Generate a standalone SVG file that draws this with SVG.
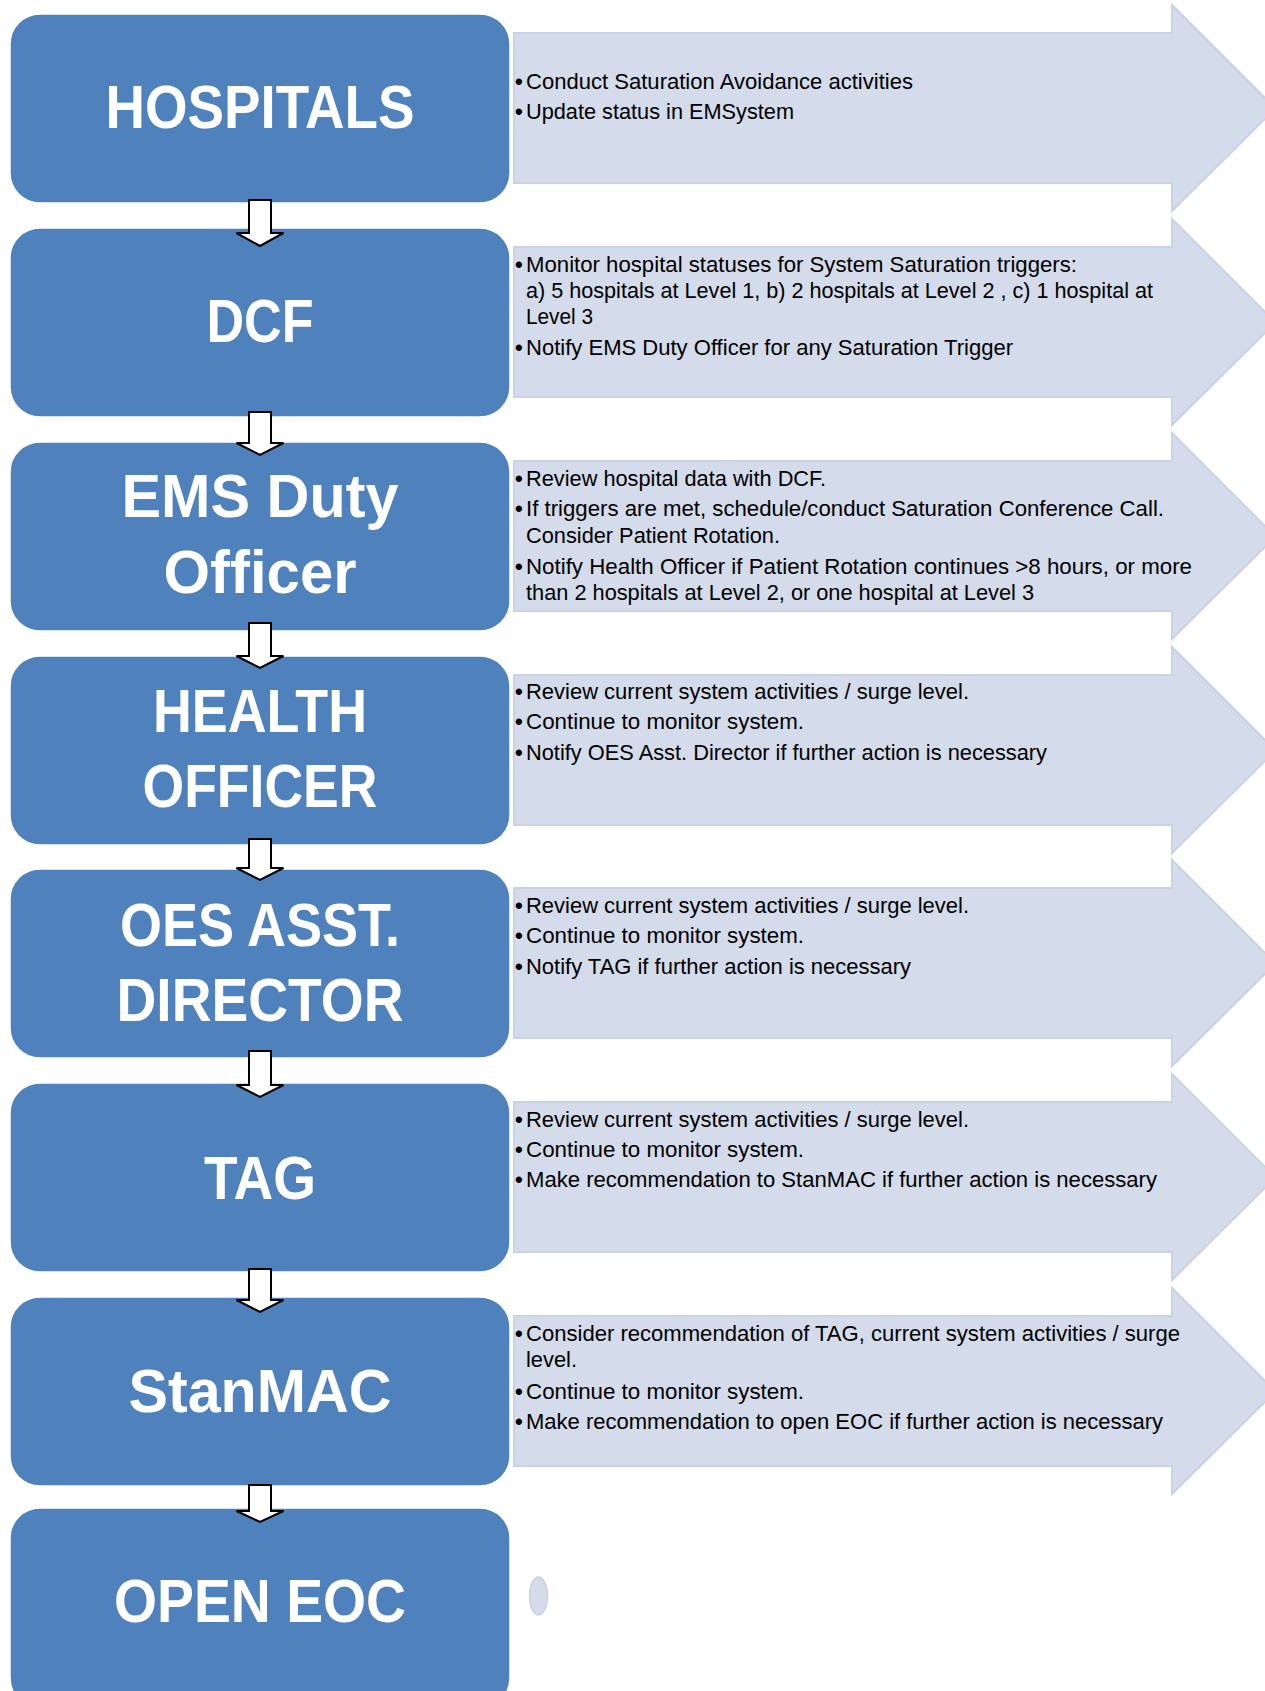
<svg xmlns="http://www.w3.org/2000/svg" width="1265" height="1691" viewBox="0 0 1265 1691">
<style>
.node{fill:#4F81BD;stroke:#ffffff;stroke-width:1.5}
.band{fill:#D4DBEA;stroke:#CAD2E5;stroke-width:2}
.title{font-family:"Liberation Sans",Arial,sans-serif;font-weight:bold;font-size:62px;fill:#ffffff;text-anchor:middle}
.txt{font-family:"Liberation Sans",Arial,sans-serif;font-size:22px;fill:#000000}
.b{font-weight:bold}
.down{fill:#ffffff;stroke:#000000;stroke-width:2;stroke-linejoin:miter}
</style>
<rect width="1265" height="1691" fill="#ffffff"/>

<g id="bands">
<path class="band" d="M514,33 H1172 V5 L1275.5,108.5 L1172,211 V183 H514 Z"/>
<path class="band" d="M514,247 H1172 V219 L1275.5,322.5 L1172,425 V397 H514 Z"/>
<path class="band" d="M514,461 H1172 V433 L1275.5,536.5 L1172,639 V611 H514 Z"/>
<path class="band" d="M514,675 H1172 V647 L1275.5,750.5 L1172,853 V825 H514 Z"/>
<path class="band" d="M514,888 H1172 V860 L1275.5,963.5 L1172,1066 V1038 H514 Z"/>
<path class="band" d="M514,1102 H1172 V1074 L1275.5,1177.5 L1172,1280 V1252 H514 Z"/>
<path class="band" d="M514,1316 H1172 V1288 L1275.5,1391.5 L1172,1494 V1466 H514 Z"/>
<ellipse cx="538.5" cy="1596" rx="9" ry="19" fill="#D4DBEA" stroke="#CAD2E5" stroke-width="1.5"/>
</g>

<g id="node-hospitals">
<rect class="node" x="10" y="14" width="500" height="189" rx="30"/>
<text class="title" x="260" y="128" textLength="309" lengthAdjust="spacingAndGlyphs">HOSPITALS</text>
</g>
<g id="text-hospitals" class="txt">
<text class="b" x="515" y="88.5">•</text><text x="526" y="88.5" textLength="387" lengthAdjust="spacingAndGlyphs">Conduct Saturation Avoidance activities</text>
<text class="b" x="515" y="118.5">•</text><text x="526" y="118.5" textLength="268" lengthAdjust="spacingAndGlyphs">Update status in EMSystem</text>
</g>

<g id="node-dcf">
<rect class="node" x="10" y="228" width="500" height="189" rx="30"/>
<text class="title" x="260" y="342" textLength="107" lengthAdjust="spacingAndGlyphs">DCF</text>
</g>
<g id="text-dcf" class="txt">
<text class="b" x="515" y="271.5">•</text><text x="526" y="271.5" textLength="551" lengthAdjust="spacingAndGlyphs">Monitor hospital statuses for System Saturation triggers:</text>
<text x="526" y="297.5" textLength="627" lengthAdjust="spacingAndGlyphs">a) 5 hospitals at Level 1, b) 2 hospitals at Level 2 , c) 1 hospital at</text>
<text x="526" y="323.5" textLength="67" lengthAdjust="spacingAndGlyphs">Level 3</text>
<text class="b" x="515" y="354.5">•</text><text x="526" y="354.5" textLength="487" lengthAdjust="spacingAndGlyphs">Notify EMS Duty Officer for any Saturation Trigger</text>
</g>

<g id="node-ems">
<rect class="node" x="10" y="442" width="500" height="189" rx="30"/>
<text class="title" x="260" y="517" textLength="277" lengthAdjust="spacingAndGlyphs">EMS Duty</text>
<text class="title" x="260" y="593" textLength="193" lengthAdjust="spacingAndGlyphs">Officer</text>
</g>
<g id="text-ems" class="txt">
<text class="b" x="515" y="485.5">•</text><text x="526" y="485.5" textLength="300" lengthAdjust="spacingAndGlyphs">Review hospital data with DCF.</text>
<text class="b" x="515" y="515.5">•</text><text x="526" y="515.5" textLength="638" lengthAdjust="spacingAndGlyphs">If triggers are met,  schedule/conduct Saturation Conference Call.</text>
<text x="526" y="542.5" textLength="254" lengthAdjust="spacingAndGlyphs">Consider Patient Rotation.</text>
<text class="b" x="515" y="573.5">•</text><text x="526" y="573.5" textLength="666" lengthAdjust="spacingAndGlyphs">Notify Health Officer if Patient Rotation continues &gt;8 hours, or more</text>
<text x="526" y="599.5" textLength="508" lengthAdjust="spacingAndGlyphs">than 2 hospitals at Level 2, or one hospital at Level 3</text>
</g>

<g id="node-health">
<rect class="node" x="10" y="656" width="500" height="189" rx="30"/>
<text class="title" x="260" y="732" textLength="214" lengthAdjust="spacingAndGlyphs">HEALTH</text>
<text class="title" x="260" y="807" textLength="235" lengthAdjust="spacingAndGlyphs">OFFICER</text>
</g>
<g id="text-health" class="txt">
<text class="b" x="515" y="699">•</text><text x="526" y="699" textLength="443" lengthAdjust="spacingAndGlyphs">Review current system activities / surge level.</text>
<text class="b" x="515" y="729">•</text><text x="526" y="729" textLength="278" lengthAdjust="spacingAndGlyphs">Continue to monitor system.</text>
<text class="b" x="515" y="760">•</text><text x="526" y="760" textLength="521" lengthAdjust="spacingAndGlyphs">Notify OES Asst. Director if further action is necessary</text>
</g>

<g id="node-oes">
<rect class="node" x="10" y="869" width="500" height="189" rx="30"/>
<text class="title" x="260" y="946" textLength="280" lengthAdjust="spacingAndGlyphs">OES ASST.</text>
<text class="title" x="260" y="1021" textLength="287" lengthAdjust="spacingAndGlyphs">DIRECTOR</text>
</g>
<g id="text-oes" class="txt">
<text class="b" x="515" y="913">•</text><text x="526" y="913" textLength="443" lengthAdjust="spacingAndGlyphs">Review current system activities / surge level.</text>
<text class="b" x="515" y="943">•</text><text x="526" y="943" textLength="278" lengthAdjust="spacingAndGlyphs">Continue to monitor system.</text>
<text class="b" x="515" y="974">•</text><text x="526" y="974" textLength="385" lengthAdjust="spacingAndGlyphs">Notify TAG if further action is necessary</text>
</g>

<g id="node-tag">
<rect class="node" x="10" y="1083" width="500" height="189" rx="30"/>
<text class="title" x="260" y="1199" textLength="112" lengthAdjust="spacingAndGlyphs">TAG</text>
</g>
<g id="text-tag" class="txt">
<text class="b" x="515" y="1127">•</text><text x="526" y="1127" textLength="443" lengthAdjust="spacingAndGlyphs">Review current system activities / surge level.</text>
<text class="b" x="515" y="1157">•</text><text x="526" y="1157" textLength="278" lengthAdjust="spacingAndGlyphs">Continue to monitor system.</text>
<text class="b" x="515" y="1187">•</text><text x="526" y="1187" textLength="631" lengthAdjust="spacingAndGlyphs">Make recommendation to StanMAC if further action is necessary</text>
</g>

<g id="node-stanmac">
<rect class="node" x="10" y="1297" width="500" height="189" rx="30"/>
<text class="title" x="260" y="1412" textLength="263" lengthAdjust="spacingAndGlyphs">StanMAC</text>
</g>
<g id="text-stanmac" class="txt">
<text class="b" x="515" y="1341">•</text><text x="526" y="1341" textLength="654" lengthAdjust="spacingAndGlyphs">Consider recommendation of TAG, current system activities / surge</text>
<text x="526" y="1367" textLength="51" lengthAdjust="spacingAndGlyphs">level.</text>
<text class="b" x="515" y="1399">•</text><text x="526" y="1399" textLength="278" lengthAdjust="spacingAndGlyphs">Continue to monitor system.</text>
<text class="b" x="515" y="1429">•</text><text x="526" y="1429" textLength="637" lengthAdjust="spacingAndGlyphs">Make recommendation to open EOC if further action is necessary</text>
</g>

<g id="node-openeoc">
<rect class="node" x="10" y="1508" width="500" height="200" rx="30"/>
<text class="title" x="260" y="1622" textLength="292" lengthAdjust="spacingAndGlyphs">OPEN EOC</text>
</g>

<g id="connectors">
<path class="down" d="M249,200 H271 V233 H283.5 L260,246 L236.5,233 H249 Z"/>
<path class="down" d="M249,412 H271 V443 H283.5 L260,455 L236.5,443 H249 Z"/>
<path class="down" d="M249,623 H271 V656 H283.5 L260,668 L236.5,656 H249 Z"/>
<path class="down" d="M249,839 H271 V868 H283.5 L260,880 L236.5,868 H249 Z"/>
<path class="down" d="M249,1051 H271 V1085 H283.5 L260,1097 L236.5,1085 H249 Z"/>
<path class="down" d="M249,1269 H271 V1300 H283.5 L260,1312 L236.5,1300 H249 Z"/>
<path class="down" d="M249,1485 H271 V1511 H283.5 L260,1522 L236.5,1511 H249 Z"/>
</g>
</svg>
